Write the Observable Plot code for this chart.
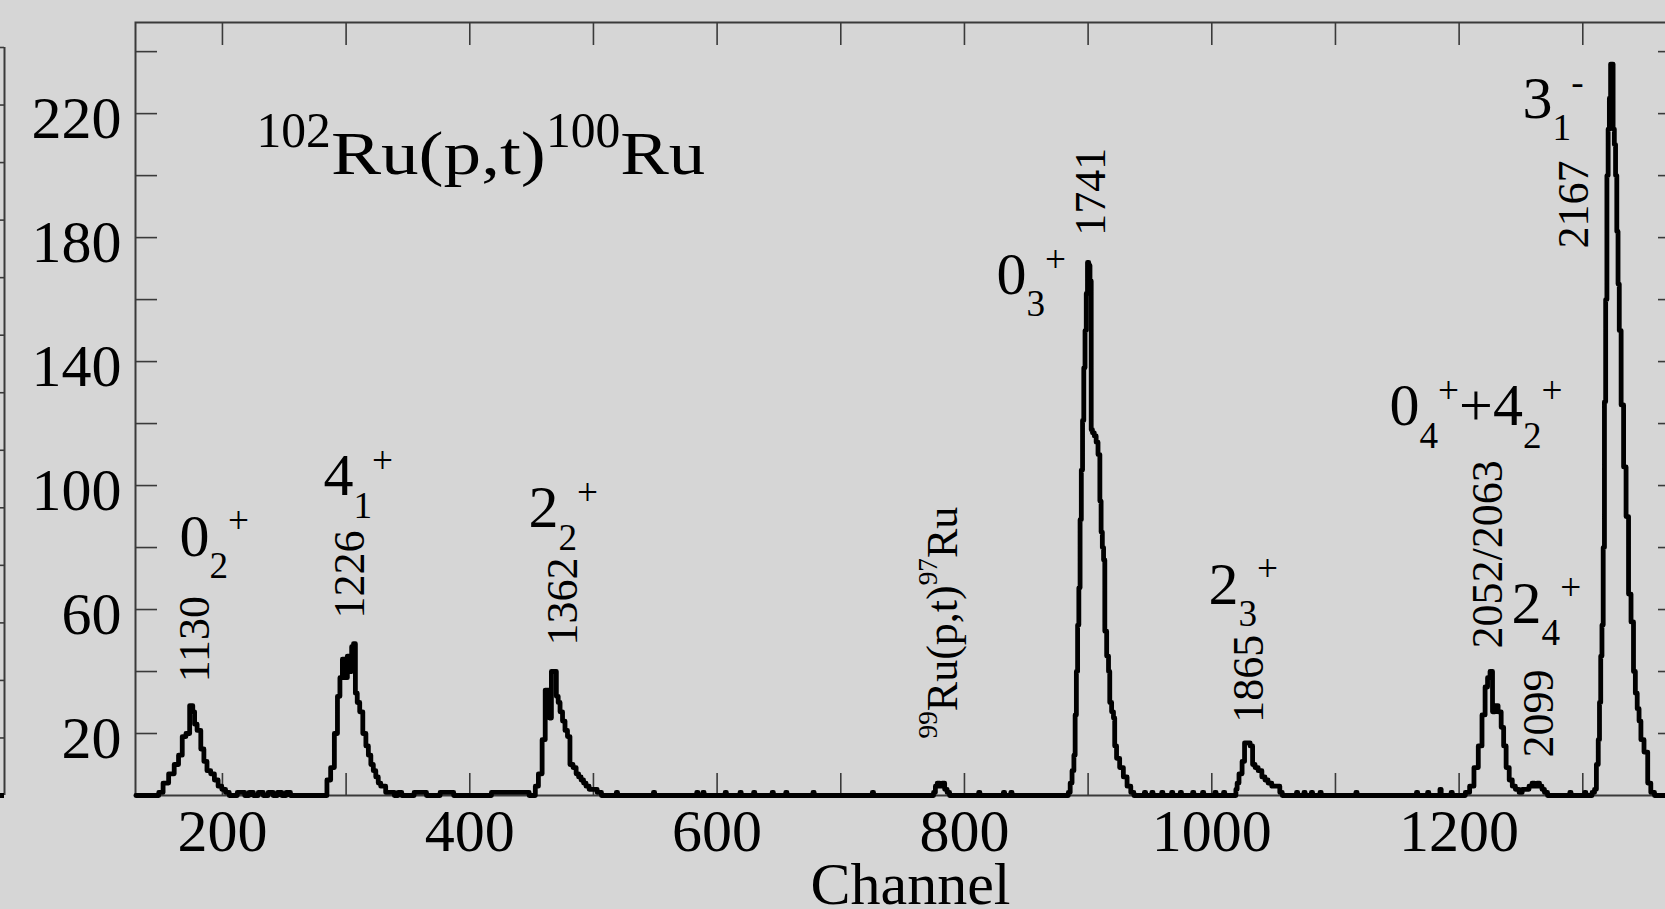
<!DOCTYPE html>
<html>
<head>
<meta charset="utf-8">
<script src="https://cdn.jsdelivr.net/npm/d3@7"></script>
<script src="https://cdn.jsdelivr.net/npm/@observablehq/plot@0.6"></script>
<style>
  html, body { margin: 0; padding: 0; background: #d6d6d6; overflow: hidden; }
  #wrap { position: relative; width: 1665px; height: 909px; overflow: hidden; background: #d6d6d6; }
  #wrap svg { position: absolute; left: 0; top: 0; max-width: none !important; }
</style>
</head>
<body>
<div id="wrap"></div>
<script>
// ---------------- data ----------------
// spectrum: channel / counts, split by region
const chA = [130, 147, 150, 154, 159, 163, 166, 169, 172, 175, 177, 178, 181, 184, 186, 189, 192, 195, 198, 201, 204, 207];
const nA  = [0,   0,   1,   4,   7,   10,  13,  19,  20,  29,  27,  23,  21,  15,  11,  8,   7,   5,   3,   2,   1,   0];
const chB = [217, 219, 224, 226, 232, 234, 240, 242, 247, 249, 254, 256, 280];
const nB  = [1,   0,   1,   0,   1,   0,   1,   0,   1,   0,   1,   0,   0];
const chC = [283, 286, 289, 292, 294, 296, 298, 300, 302, 304, 305, 307, 308, 310, 312, 315, 317, 319, 321, 323, 325, 327, 329, 331, 333, 335, 338, 340];
const nC  = [0,   5,   9,   20,  32,  38,  44,  38,  45,  40,  48,  49,  33,  30,  27,  20,  16,  13,  10,  8,   6,   4,   3,   3,   1,   1,   1,   0];
const chD = [344, 346, 364, 366, 386, 388, 447, 449];
const nD  = [1,   0,   1,   0,   1,   0,   1,   0];
const chE = [452, 454, 457, 460, 462, 464, 465, 467, 469, 471, 472, 474, 476, 478, 480, 482, 485, 487, 489, 491, 493, 495, 498, 501, 505, 508];
const nE  = [0,   3,   7,   18,  34,  34,  25,  40,  40,  32,  30,  27,  24,  21,  19,  10,  9,   7,   6,   5,   4,   3,   2,   2,   1,   0];
const chF = [518, 519, 520, 548, 549, 550, 583, 584, 585, 588, 589, 590, 606, 607, 608, 618, 619, 620, 629, 630, 631, 644, 645, 646, 655, 656, 657, 677, 678, 679, 725, 726, 727];
const nF  = [0, 1, 0, 0, 1, 0, 0, 1, 0, 0, 1, 0, 0, 1, 0, 0, 1, 0, 0, 1, 0, 0, 1, 0, 0, 1, 0, 0, 1, 0, 0, 1, 0];
const chG = [774, 776, 777, 779, 781, 783, 785, 787, 789];
const nG  = [0,   1,   3,   4,   3,   4,   2,   1,   0];
const chH = [811, 812, 813, 831, 832, 833, 837, 838, 839, 880];
const nH  = [0, 1, 0, 0, 1, 0, 0, 1, 0, 0];
const chI = [883, 885, 886, 888, 889, 890, 891, 892, 893, 894, 895, 896, 897, 898, 899, 900, 901, 902, 903, 904, 906, 907, 909, 910, 911, 912, 913, 914, 916, 917, 918, 920, 921, 922, 924, 927, 930, 933, 936, 938];
const nI  = [0,   1,   4,   8,   13,  26,  40,  55,  67,  89,  105, 121, 138, 150, 162, 172, 171, 166, 118, 117, 116, 114, 110, 95,  85,  80,  76,  53,  45,  40,  30,  27,  25,  16,  12,  9,   6,   3,   1,   0];
const chJ = [945, 946, 947, 951, 952, 953, 959, 960, 961, 967, 968, 969, 974, 975, 976, 984, 985, 986, 992, 993, 994, 1002, 1003, 1004, 1009, 1010, 1011, 1018];
const nJ  = [0, 1, 0, 0, 1, 0, 0, 1, 0, 0, 1, 0, 0, 1, 0, 0, 1, 0, 0, 1, 0, 0, 1, 0, 0, 1, 0, 0];
const chK = [1019, 1020, 1021, 1023, 1026, 1027, 1030, 1032, 1034, 1036, 1039, 1042, 1044, 1047, 1050, 1054, 1056, 1058];
const nK  = [0,    2,    4,    7,    11,   17,   17,   16,   10,   9,    8,    6,    5,    4,    3,    3,    1,    0];
const chL = [1068, 1069, 1070, 1074, 1075, 1076, 1080, 1081, 1082, 1087, 1088, 1089, 1116, 1117, 1118, 1165, 1166, 1167, 1174, 1175, 1176, 1184, 1185, 1186, 1193, 1194, 1195];
const nL  = [0, 1, 0, 0, 1, 0, 0, 1, 0, 0, 1, 0, 0, 1, 0, 0, 1, 0, 0, 1, 0, 0, 2, 0, 0, 1, 0];
const chM = [1203, 1207, 1210, 1214, 1217, 1220, 1222, 1224, 1226, 1228, 1230, 1233, 1235, 1237, 1239, 1242, 1244, 1247, 1250, 1252, 1255, 1258, 1260, 1262, 1264, 1266, 1268, 1270, 1273];
const nM  = [0,    1,    3,    9,    16,   26,   35,   38,   40,   27,   29,   27,   22,   16,   9,    5,    3,    2,    1,    2,    2,    3,    4,    3,    4,    3,    2,    1,    0];
const chN = [1289, 1290, 1291, 1301, 1302, 1303, 1306];
const nN  = [0, 1, 0, 0, 1, 0, 0];
const chO = [1309, 1310, 1312, 1313, 1314, 1315, 1316, 1317, 1318, 1319, 1320, 1321, 1322, 1323, 1324, 1325, 1326, 1327, 1328, 1329, 1330, 1332, 1334, 1336, 1338, 1340, 1342, 1343, 1345, 1346, 1348, 1351, 1354, 1356, 1360, 1371, 1372, 1373, 1378];
const nO  = [1,    2,    10,   18,   30,   45,   55,   80,   127,  160,  200,  215,  225,  236,  236,  215,  210,  200,  182,  165,  150,  126,  106,  90,   65,   56,   40,   33,   28,   24,   18,   14,   4,    1,    0,    0,    1,    0,    0];

const channel = [].concat(chA, chB, chC, chD, chE, chF, chG, chH, chI, chJ, chK, chL, chM, chN, chO);
const counts  = [].concat(nA, nB, nC, nD, nE, nF, nG, nH, nI, nJ, nK, nL, nM, nN, nO);

// state labels (spin/parity), placed in data units (channel, counts)
const levelText = ["0_{2}^{+}", "4_{1}^{+}", "2_{2}^{+}", "0_{3}^{+}", "2_{3}^{+}", "0_{4}^{+}+4_{2}^{+}", "2_{4}^{+}", "3_{1}^{-}"];
const levelX    = [165.2, 281.7, 447.5, 825.9, 997.3, 1143.7, 1242.4, 1251.3];
const levelY    = [77.4, 96.8, 86.5, 161.9, 61.9, 119.4, 55.8, 218.7];

// energy labels (keV), rotated
const energyText = ["1130", "1226", "1362", "^{99}Ru(p,t)^{97}Ru", "1741", "1865", "2052/2063", "2099", "2167"];
const energyX    = [189.5, 314.8, 486.3, 793.6, 914.0, 1041.8, 1234.3, 1276.3, 1304.6];
const energyY    = [36.5, 57.1, 48.4, 18.4, 180.6, 23.5, 47.4, 12.3, 176.5];

const titleText = "^{102}Ru(p,t)^{100}Ru";
const xLabel = "Channel";

const xTicks      = d3.range(200, 1400, 100);
const xTickLabels = [200, 400, 600, 800, 1000, 1200];
const yTicks      = d3.range(20, 260, 20);
const yTickLabels = [20, 60, 100, 140, 180, 220];
const neighborTicks = d3.range(0, 14, 1);

// ---------------- chart ----------------
const serif = "'Liberation Serif','Times New Roman',Times,serif";
const axisColor = "#3a3a3a";

const tickOpts = {tickSize: -22, stroke: axisColor, strokeWidth: 1.6, tickFormat: () => "", label: null};

const chart = Plot.plot({
  width: 1700, height: 909,
  marginLeft: 135, marginRight: 21, marginTop: 22, marginBottom: 114,
  style: {background: "transparent", fontFamily: serif, color: "#000", overflow: "visible", maxWidth: "none"},
  x: {domain: [129.7, 1378.2]},
  y: {domain: [0, 249.4]},
  marks: [
    Plot.axisX(xTicks, {anchor: "bottom", ...tickOpts}),
    Plot.axisX(xTicks, {anchor: "top", ...tickOpts}),
    Plot.axisY(yTicks, {anchor: "left", ...tickOpts}),
    Plot.axisY(yTicks, {anchor: "right", ...tickOpts}),
    Plot.axisX(xTickLabels, {anchor: "bottom", tickSize: 0, tickPadding: 13, fontSize: 60, tickFormat: d => String(d), label: null}),
    Plot.axisY(yTickLabels, {anchor: "left", tickSize: 0, tickPadding: 14, fontSize: 60, dy: 5, tickFormat: d => String(d), label: null}),
    Plot.frame({stroke: axisColor, strokeWidth: 2}),
    Plot.line(channel, {x: channel, y: counts, curve: "step", stroke: "black", strokeWidth: 4.8, strokeLinejoin: "round"}),
    Plot.text(levelText, {x: levelX, y: levelY, text: d => d, fontSize: 60, textAnchor: "start", lineAnchor: "bottom", fill: "black"}),
    Plot.text(energyText, {x: energyX, y: energyY, text: d => d, rotate: -90, fontSize: 44, textAnchor: "start", lineAnchor: "bottom", fill: "black"}),
    Plot.text([titleText], {frameAnchor: "top-left", text: d => d, dx: 121, dy: 151, fontSize: 62, textAnchor: "start", lineAnchor: "bottom", fill: "black"}),
    Plot.text([xLabel], {frameAnchor: "bottom", text: d => d, dx: 3, dy: 108, fontSize: 60, lineAnchor: "bottom", fill: "black"})
  ]
});

// cropped neighbouring panel on the far left (its right frame and ticks)
const neighbor = Plot.plot({
  width: 6, height: 909,
  marginLeft: 0, marginRight: 2, marginTop: 47, marginBottom: 114,
  style: {background: "transparent", overflow: "visible", maxWidth: "none"},
  x: {domain: [0, 1], axis: null},
  y: {domain: [0, 13], axis: null},
  marks: [
    Plot.tickY(neighborTicks, {y: d => d, stroke: axisColor, strokeWidth: 1.6}),
    Plot.ruleX([1], {stroke: axisColor, strokeWidth: 2}),
    Plot.ruleY([0], {stroke: "black", strokeWidth: 5})
  ]
});

const wrap = document.getElementById("wrap");
wrap.appendChild(neighbor);
wrap.appendChild(chart);

// ---------------- sub/superscript markup -> tspans ----------------
function richText(el, F, r, sub, sup) {
  const s = el.textContent;
  if (!/[_^]\{/.test(s)) return null;
  el.textContent = "";
  let shift = 0;
  const out = [];
  for (const m of s.matchAll(/([_^])\{([^}]*)\}|([^_^]+)/g)) {
    const t = document.createElementNS("http://www.w3.org/2000/svg", "tspan");
    const target = m[1] ? (m[1] === "_" ? sub * F : -sup * F) : 0;
    t.textContent = m[1] ? m[2] : m[3];
    t.setAttribute("font-size", m[1] ? r * F : F);
    if (target !== shift) t.setAttribute("dy", target - shift);
    shift = target;
    el.appendChild(t);
    out.push(t);
  }
  return out;
}

chart.querySelectorAll("text").forEach(el => {
  const F = parseFloat(getComputedStyle(el).fontSize);
  const s = el.textContent;
  if (s === titleText) {
    const parts = richText(el, F, 0.8, 0, 0.42);
    parts[1].setAttribute("textLength", 215);
    parts[1].setAttribute("lengthAdjust", "spacingAndGlyphs");
    parts[3].setAttribute("textLength", 85);
    parts[3].setAttribute("lengthAdjust", "spacingAndGlyphs");
  } else if (F < 50) {
    richText(el, F, 0.62, 0.37, 0.45);
  } else {
    richText(el, F, 0.62, 0.37, 0.37);
  }
});
</script>
</body>
</html>
